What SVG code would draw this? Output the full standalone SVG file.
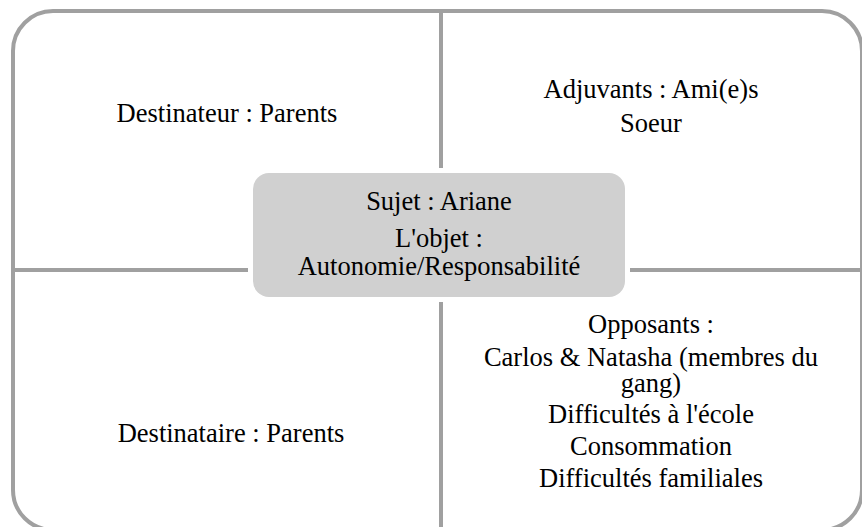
<svg xmlns="http://www.w3.org/2000/svg" width="862" height="527" viewBox="0 0 862 527">
<style>
  text { font-family: 'Liberation Serif', 'DejaVu Serif', serif; font-size: 26.5px; fill: #000000; text-anchor: middle; }
  .line { stroke: #a0a0a0; stroke-width: 4; fill: none; }
</style>
<rect width="862" height="527" fill="#ffffff"/>
<g id="frame">
  <rect x="13" y="11" width="849" height="519" rx="40" ry="40" fill="#ffffff" stroke="#a0a0a0" stroke-width="4"/>
</g>
<g id="connectors">
  <line class="line" x1="441" y1="11" x2="441" y2="530"/>
  <line class="line" x1="13" y1="270" x2="862" y2="270"/>
</g>
<g id="destinateur">
  <text x="227" y="122">Destinateur : Parents</text>
</g>
<g id="adjuvants">
  <text x="651" y="98">Adjuvants : Ami(e)s</text>
  <text x="651" y="132">Soeur</text>
</g>
<g id="destinataire">
  <text x="231" y="442">Destinataire : Parents</text>
</g>
<g id="opposants">
  <text x="651" y="333">Opposants :</text>
  <text x="651" y="366">Carlos &amp; Natasha (membres du</text>
  <text x="651" y="392">gang)</text>
  <text x="651" y="423">Difficultés à l'école</text>
  <text x="651" y="455">Consommation</text>
  <text x="651" y="487">Difficultés familiales</text>
</g>
<g id="sujet">
  <rect x="248" y="168" width="382" height="134" rx="20" ry="20" fill="#ffffff"/>
  <rect x="253" y="173" width="372" height="124" rx="16" ry="16" fill="#d0d0d0"/>
  <text x="439" y="210">Sujet : Ariane</text>
  <text x="439" y="247">L'objet :</text>
  <text x="439" y="275">Autonomie/Responsabilité</text>
</g>
</svg>
